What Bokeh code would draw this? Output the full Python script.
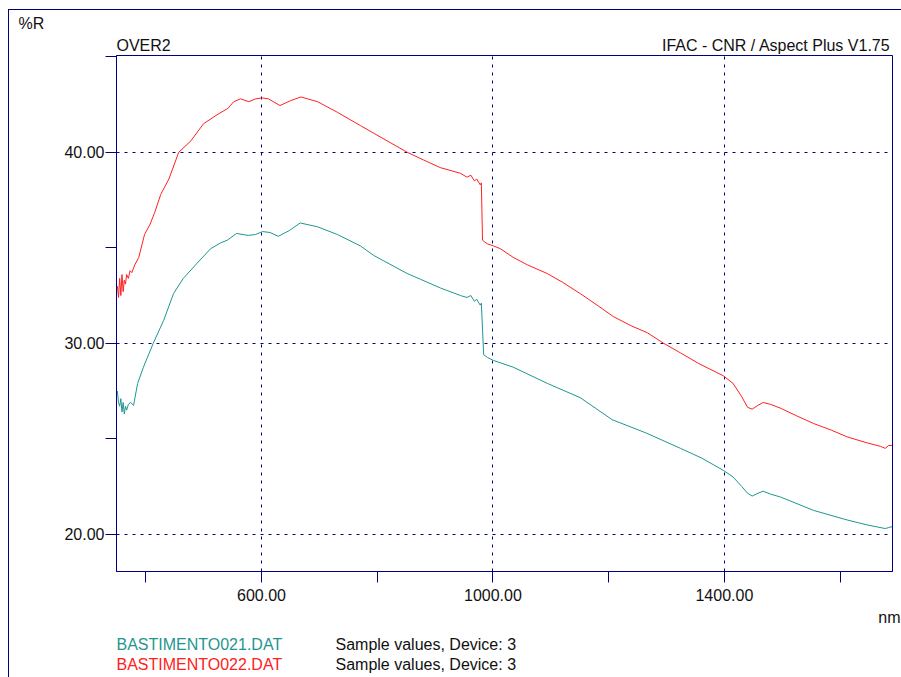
from bokeh.plotting import figure
from bokeh.models import Range1d, FixedTicker, CustomJSTickFormatter, Label
from bokeh.embed import file_html
from bokeh.resources import INLINE

# ---- data ----
red_nm = [351, 353, 355, 357, 359, 361, 363, 365, 367, 370, 373, 376, 381, 388, 398, 407, 415, 426, 440, 457,
          478, 500, 525, 542, 552, 564, 578, 590, 601, 612, 632, 650, 668, 697, 731, 771, 794, 852, 880, 909,
          944, 955, 962, 968, 972, 978, 980, 982, 986, 991, 1001, 1013, 1035, 1060, 1094, 1120, 1151, 1180, 1208,
          1240, 1267, 1295, 1324, 1355, 1398, 1415, 1430, 1440, 1448, 1458, 1467, 1480, 1497, 1525, 1554, 1585,
          1612, 1645, 1670, 1678, 1684, 1690]
red_v = [33.0, 32.4, 33.4, 32.5, 33.6, 32.7, 33.3, 33.1, 33.6, 33.4, 33.8, 33.7, 34.1, 34.5, 35.7, 36.2, 36.8,
         37.8, 38.6, 40.0, 40.6, 41.5, 42.0, 42.3, 42.65, 42.8, 42.65, 42.8, 42.85, 42.8, 42.45, 42.7, 42.9, 42.65,
         42.1, 41.4, 41.0, 40.0, 39.6, 39.2, 38.9, 38.7, 38.8, 38.5, 38.6, 38.3, 38.4, 35.4, 35.3, 35.2, 35.1,
         34.95, 34.5, 34.1, 33.65, 33.2, 32.6, 32.0, 31.4, 30.9, 30.55, 30.0, 29.5, 28.95, 28.3, 27.9, 27.2, 26.65,
         26.55, 26.75, 26.9, 26.8, 26.6, 26.2, 25.8, 25.45, 25.1, 24.8, 24.6, 24.5, 24.65, 24.65]

teal_nm = [351, 353, 355, 357, 359, 361, 363, 365, 367, 370, 374, 379, 386, 396, 413, 431, 448, 465, 489, 512,
           529, 541, 557, 577, 590, 602, 615, 629, 648, 667, 697, 731, 771, 794, 852, 875, 909, 944, 955, 962,
           968, 972, 978, 980, 984, 991, 1001, 1035, 1094, 1151, 1206, 1265, 1324, 1360, 1398, 1415, 1430, 1440,
           1448, 1458, 1467, 1480, 1497, 1554, 1612, 1645, 1678, 1684, 1690]
teal_v = [27.5, 26.9, 26.7, 27.1, 26.4, 26.9, 26.3, 26.7, 26.5, 26.8, 26.9, 26.75, 27.9, 28.75, 30.0, 31.2, 32.6,
          33.4, 34.2, 34.95, 35.25, 35.4, 35.75, 35.65, 35.7, 35.85, 35.8, 35.6, 35.9, 36.3, 36.1, 35.7, 35.1, 34.6,
          33.65, 33.35, 32.9, 32.5, 32.4, 32.5, 32.2, 32.3, 32.0, 32.1, 29.4, 29.25, 29.1, 28.75, 27.9, 27.15, 26.0,
          25.3, 24.5, 24.0, 23.35, 23.0, 22.5, 22.15, 22.0, 22.15, 22.25, 22.1, 21.95, 21.25, 20.75, 20.5, 20.3,
          20.35, 20.4]

x_ticks = [400, 600, 800, 1000, 1200, 1400, 1600]
x_grid = [600, 1000, 1400]
y_ticks = [20, 25, 30, 35, 40, 45]
y_grid = [20, 30, 40]

files = ["BASTIMENTO021.DAT", "BASTIMENTO022.DAT"]
descr = ["Sample values, Device: 3", "Sample values, Device: 3"]
colors = ["#1f9690", "#ff2020"]

NAVY = "#000080"
FONT = "Liberation Sans"

p = figure(width=901, height=677, output_backend="svg", toolbar_location=None,
           x_range=Range1d(349.5, 1690.5), y_range=Range1d(18.05, 45.07),
           min_border_left=116, min_border_right=9, min_border_top=55, min_border_bottom=106)

# outer frame lines of the picture (top and left), drawn behind a transparent border area
p.styles = {
    "background-image": "linear-gradient(#000080, #000080), linear-gradient(#000080, #000080)",
    "background-size": "100% 1px, 1px 100%",
    "background-position": "8px 9px, 8px 9px",
    "background-repeat": "no-repeat",
}
p.border_fill_color = None
p.background_fill_color = "white"
p.outline_line_color = NAVY
p.outline_line_alpha = 1.0

for ax, ticks in ((p.xaxis[0], x_ticks), (p.yaxis[0], y_ticks)):
    ax.ticker = FixedTicker(ticks=ticks)
    ax.axis_line_color = NAVY
    ax.major_tick_line_color = NAVY
    ax.major_tick_out = 11
    ax.major_tick_in = 0
    ax.minor_tick_line_color = None
    ax.major_label_text_font = FONT
    ax.major_label_text_font_size = "16px"
    ax.major_label_text_color = "#111111"

p.xaxis[0].formatter = CustomJSTickFormatter(code="return (tick % 400 == 200) ? tick.toFixed(2) : '';")
p.yaxis[0].formatter = CustomJSTickFormatter(code="return (tick % 10 == 0) ? tick.toFixed(2) : '';")
p.xaxis[0].major_label_standoff = 6
p.yaxis[0].major_label_standoff = 1

p.xgrid.ticker = FixedTicker(ticks=x_grid)
p.ygrid.ticker = FixedTicker(ticks=y_grid)
for g in (p.xgrid, p.ygrid):
    g.grid_line_color = NAVY
    g.grid_line_dash = "3 5"
    g.grid_line_width = 1

p.line(teal_nm, teal_v, line_color=colors[0], line_width=1)
p.line(red_nm, red_v, line_color=colors[1], line_width=1)

# texts outside the frame: placed in side panels (not clipped), canvas pixel coordinates
def lab(text, x, y, side, align="left", color="#111111"):
    p.add_layout(Label(x=x, y=y, x_units="canvas", y_units="canvas", text=text,
                       text_align=align, text_baseline="alphabetic",
                       text_font=FONT, text_font_size="16px", text_color=color), side)

lab("%R", 18, 23, "left")
lab("nm", 900, 617, "left", align="right")
lab("OVER2", 116, 45, "above")
lab("IFAC - CNR / Aspect Plus V1.75", 890, 45, "above", align="right")
lab(files[0], 116, 644, "above", color=colors[0])
lab(descr[0], 335, 644, "below")
lab(files[1], 116, 664, "below", color=colors[1])
lab(descr[1], 335, 664, "below")

open("out.html", "w").write(file_html(p, INLINE))
